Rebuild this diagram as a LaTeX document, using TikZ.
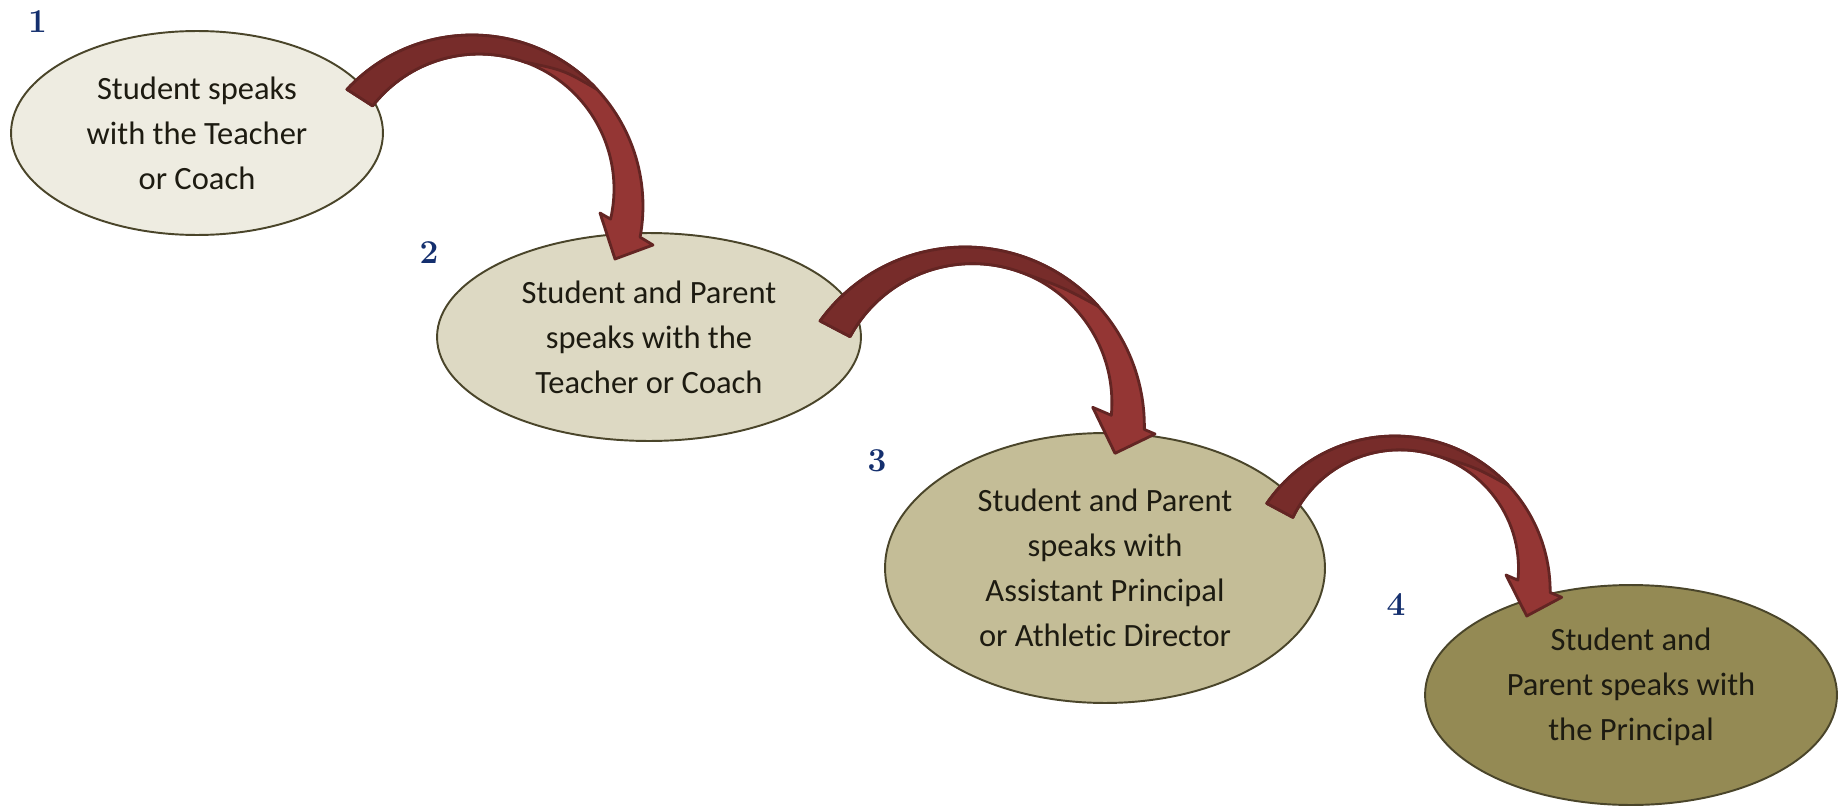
\documentclass[tikz,border=0pt]{standalone}
\usepackage{fontspec}
\newfontfamily\bubblefont[Ligatures=NoCommon]{Carlito}
\usetikzlibrary{shapes.geometric,calc}

\definecolor{bubbleline}{HTML}{4A452A}
\definecolor{bubbleA}{HTML}{EEECE1}
\definecolor{bubbleB}{HTML}{DDD9C3}
\definecolor{bubbleC}{HTML}{C4BD97}
\definecolor{bubbleD}{HTML}{948A54}
\definecolor{bubbletext}{HTML}{1D1B11}
\definecolor{stepnum}{HTML}{142F6E}
\definecolor{arrowdark}{HTML}{772C2A}
\definecolor{arrowlight}{HTML}{943634}
\definecolor{arrowline}{HTML}{632523}

\tikzset{
  bubble/.style={ellipse, draw=bubbleline, line width=1.1pt, inner sep=0pt, align=center,
    text=bubbletext, font=\bubblefont\fontsize{18.5}{25.6}\selectfont},
  stepnumber/.style={text=stepnum, font=\fontsize{19}{19}\selectfont\bfseries},
  ribbon/.style={fill=arrowlight, draw=arrowline, line width=1.6pt, line join=round},
  ribbontop/.style={fill=arrowdark, draw=arrowline, line width=1.6pt, line join=round}
}

\begin{document}
\begin{tikzpicture}[x=0.02cm, y=0.02cm]
    % rim radii of the curved arrows (cm)
    \pgfmathsetmacro{\outA}{3.42}
    \pgfmathsetmacro{\inA}{2.70}
    \pgfmathsetmacro{\outB}{3.586}
    \pgfmathsetmacro{\inB}{2.786}
    \pgfmathsetmacro{\outC}{3.108}
    \pgfmathsetmacro{\inC}{2.372}
    \clip (0,0) rectangle (1841,806);
    \fill[white] (0,0) rectangle (1841,806);
    % the four steps
    \node[bubble, fill=bubbleA, minimum width=7.44cm, minimum height=4.08cm] (teacher) at (197,673) {Student speaks\\with the Teacher\\or Coach};
    \node[bubble, fill=bubbleB, minimum width=8.48cm, minimum height=4.16cm] (parentmeet) at (649,469) {Student and Parent\\speaks with the\\Teacher or Coach};
    \node[bubble, fill=bubbleC, minimum width=8.80cm, minimum height=5.40cm] (assistant) at (1105,238) {Student and Parent\\speaks with\\Assistant Principal\\or Athletic Director};
    \node[bubble, fill=bubbleD, minimum width=8.24cm, minimum height=4.40cm] (principal) at (1631,111) {Student and\\Parent speaks with\\the Principal\rule[-12.7pt]{0pt}{0pt}};
    \node[stepnumber] (num1) at (37.5,784.7) {1};
    \node[stepnumber] (num2) at (429,553) {2};
    \node[stepnumber] (num3) at (877,345.5) {3};
    \node[stepnumber] (num4) at (1396,201) {4};
    % centres of the outer and inner rims of each curved arrow
    \coordinate (out1) at (472,600);
    \coordinate (in1) at (479,617);
    \coordinate (out2) at (965.1,379.7);
    \coordinate (in2) at (972.6,403.1);
    \coordinate (out3) at (1394.8,214.6);
    \coordinate (in3) at (1399.9,237.6);
    % teacher -> parentmeet
    \draw[ribbon] ($(out1)+(137:\outA cm)$) arc[start angle=137, end angle=-10.5, radius=\outA cm]
        -- (653,561) -- (615,547) -- (600,593)
        -- ($(in1)+(-12.9:\inA cm)$) arc[start angle=-12.9, end angle=142, radius=\inA cm] -- cycle;
    \draw[ribbontop] ($(out1)+(137:\outA cm)$) arc[start angle=137, end angle=43, radius=\outA cm]
        .. controls ($(out1)+(56:3.28cm)$) .. ($(in1)+(70:\inA cm)$)
        arc[start angle=70, end angle=142, radius=\inA cm] -- cycle;
    % parentmeet -> assistant
    \draw[ribbon] ($(out2)+(144:\outB cm)$) arc[start angle=144, end angle=-1, radius=\outB cm]
        -- (1155,372) -- (1115,352.7) -- (1092.7,398.7)
        -- ($(in2)+(-5.1:\inB cm)$) arc[start angle=-5.1, end angle=151.6, radius=\inB cm] -- cycle;
    \draw[ribbontop] ($(out2)+(144:\outB cm)$) arc[start angle=144, end angle=42, radius=\outB cm]
        .. controls ($(out2)+(55:3.40cm)$) .. ($(in2)+(71:\inB cm)$)
        arc[start angle=71, end angle=151.6, radius=\inB cm] -- cycle;
    % assistant -> principal
    \draw[ribbon] ($(out3)+(145.5:\outC cm)$) arc[start angle=145.5, end angle=-0.4, radius=\outC cm]
        -- (1561.7,208.7) -- (1526.7,190) -- (1506,231)
        -- ($(in3)+(-5.7:\inC cm)$) arc[start angle=-5.7, end angle=154.5, radius=\inC cm] -- cycle;
    \draw[ribbontop] ($(out3)+(145.5:\outC cm)$) arc[start angle=145.5, end angle=43, radius=\outC cm]
        .. controls ($(out3)+(57:2.96cm)$) .. ($(in3)+(72:\inC cm)$)
        arc[start angle=72, end angle=154.5, radius=\inC cm] -- cycle;
\end{tikzpicture}
\end{document}
